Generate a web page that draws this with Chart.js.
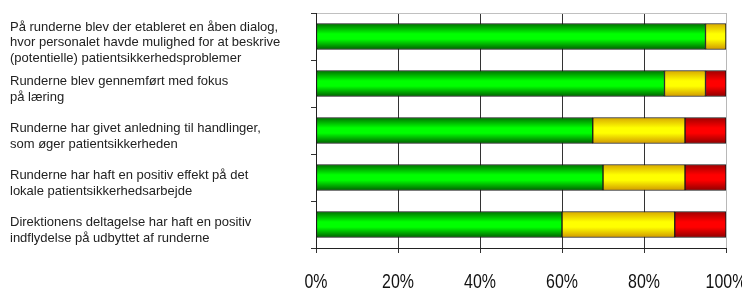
<!DOCTYPE html>
<html>
<head>
<meta charset="utf-8">
<script src="https://cdn.jsdelivr.net/npm/chart.js@4"></script>
<style>
  html, body { margin: 0; padding: 0; background: #fff; }
  #wrap { width: 742px; height: 290px; }
</style>
</head>
<body>
<div id="wrap"><canvas id="myChart" width="742" height="290"></canvas></div>
<script>
// statements (one per bar, top to bottom)
const statements = [
  ["På runderne blev der etableret en åben dialog,", "hvor personalet havde mulighed for at beskrive", "(potentielle) patientsikkerhedsproblemer"],
  ["Runderne blev gennemført med fokus", "på læring"],
  ["Runderne har givet anledning til handlinger,", "som øger patientsikkerheden"],
  ["Runderne har haft en positiv effekt på det", "lokale patientsikkerhedsarbejde"],
  ["Direktionens deltagelse har haft en positiv", "indflydelse på udbyttet af runderne"]
]
// shares in percent
const greenValues = [95, 85, 67.5, 70, 60]
const yellowValues = [5, 10, 22.5, 20, 27.5]
const redValues = [0, 5, 10, 10, 12.5]
const xTicks = [0, 20, 40, 60, 80, 100]

const BAR = 26

// vertical shading like the old office bars
function shade(stops) {
  return function (ctx) {
    var chart = ctx.chart
    if (!chart.chartArea || !chart.scales.y) return stops[1]
    var yc = chart.scales.y.getPixelForValue(ctx.dataIndex)
    var top = yc - BAR / 2
    var g = chart.ctx.createLinearGradient(0, top, 0, top + BAR)
    g.addColorStop(0, stops[0])
    g.addColorStop(0.4, stops[1])
    g.addColorStop(0.6, stops[1])
    g.addColorStop(1, stops[2])
    return g
  }
}

// statements on the left + narrow percent labels under the axis
const labelPlugin = {
  id: "textLabels",
  afterDraw(chart) {
    var c = chart.ctx
    var y = chart.scales.y
    var x = chart.scales.x
    c.save()
    c.font = '13px "Liberation Sans", Arial, sans-serif'
    c.fillStyle = "#222"
    c.textBaseline = "middle"
    c.textAlign = "left"
    statements.forEach(function (lines, i) {
      var yc = y.getPixelForValue(i) + 6
      lines.forEach(function (t, j) {
        c.fillText(t, 10, yc + (j - (lines.length - 1) / 2) * 15.5)
      })
    })
    c.restore()

    c.save()
    c.font = '21px "Liberation Sans", Arial, sans-serif'
    c.fillStyle = "#111"
    c.textAlign = "center"
    c.textBaseline = "alphabetic"
    xTicks.forEach(function (v) {
      var px = x.getPixelForValue(v)
      c.save()
      c.translate(px, 287.5)
      c.scale(0.76, 1)
      c.fillText(v + "%", 0, 0)
      c.restore()
    })
    c.restore()
  }
}

var chartField = document.querySelector("#myChart").getContext("2d")

var myChart = new Chart(chartField, {
  type: "bar",
  data: {
    labels: statements,
    datasets: [
      { data: greenValues, backgroundColor: shade(["#007000", "#00ff00", "#006000"]) },
      { data: yellowValues, backgroundColor: shade(["#d8a800", "#ffff00", "#d09800"]) },
      { data: redValues, backgroundColor: shade(["#a00000", "#ff0000", "#900000"]) }
    ]
  },
  options: {
    indexAxis: "y",
    responsive: false,
    animation: false,
    layout: { padding: { top: 13, right: 16, left: 0, bottom: 0 } },
    datasets: {
      bar: { barThickness: BAR, borderColor: "#1a1a1a", borderWidth: 1, borderSkipped: false }
    },
    plugins: { legend: { display: false }, tooltip: { enabled: false } },
    scales: {
      x: {
        stacked: true,
        min: 0,
        max: 100,
        afterBuildTicks: function (scale) {
          scale.ticks = xTicks.map(function (v) { return { value: v } })
        },
        afterFit: function (scale) {
          scale.height = 42
          scale.paddingLeft = 0
          scale.paddingRight = 0
        },
        ticks: { display: false },
        grid: {
          color: function (ctx) { return ctx.index === xTicks.length - 1 ? "#b8b8b8" : "#333" },
          tickColor: "#333",
          tickLength: 5
        },
        border: { color: "#222" }
      },
      y: {
        stacked: true,
        afterFit: function (scale) { scale.width = 316 },
        ticks: { display: false },
        grid: {
          drawOnChartArea: true,
          color: function (ctx) { return ctx.index === 0 ? "#c0c0c0" : "rgba(0,0,0,0)" },
          tickColor: "#333",
          tickLength: 5
        },
        border: { color: "#222" }
      }
    }
  },
  plugins: [labelPlugin]
})
</script>
</body>
</html>
